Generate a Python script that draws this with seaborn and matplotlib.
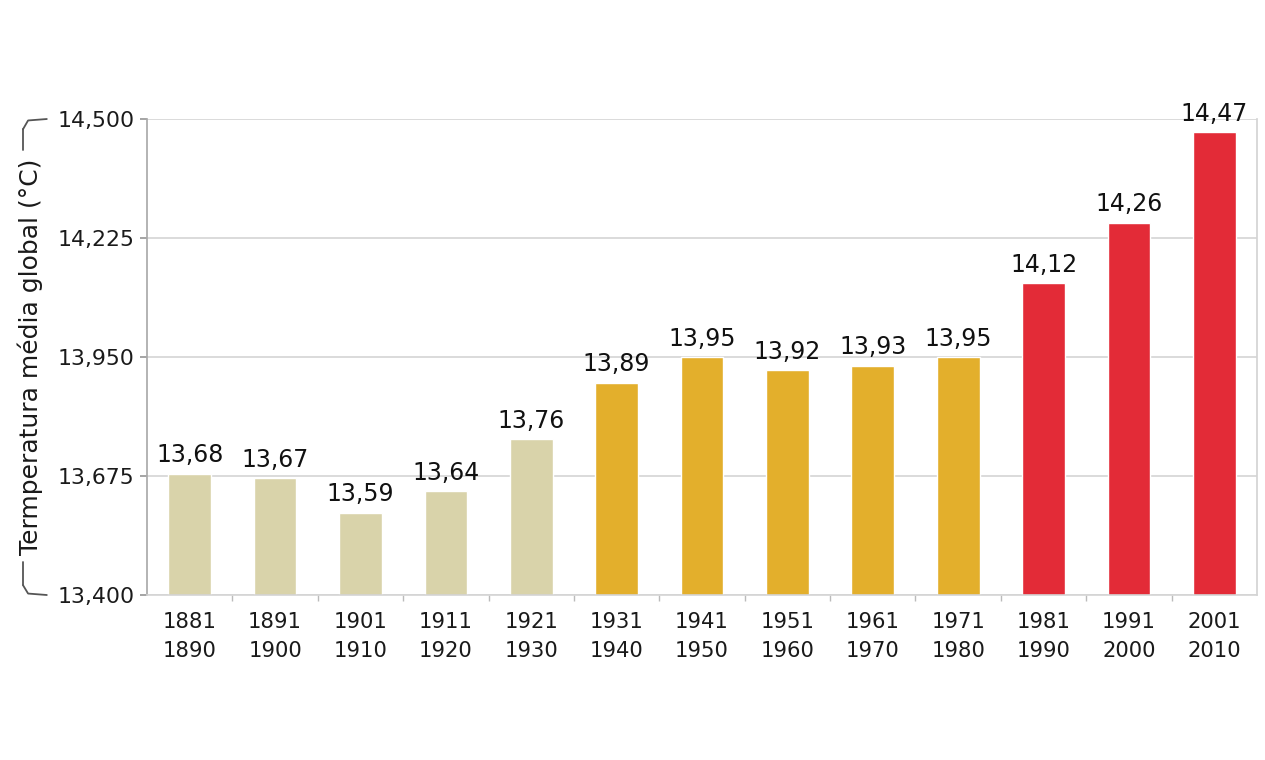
import matplotlib
matplotlib.use("Agg")
import matplotlib.pyplot as plt
import pandas as pd
import seaborn as sns
from matplotlib.lines import Line2D
from matplotlib.ticker import FixedLocator

starts = ["1881", "1891", "1901", "1911", "1921", "1931", "1941", "1951", "1961", "1971", "1981", "1991", "2001"]
ends = ["1890", "1900", "1910", "1920", "1930", "1940", "1950", "1960", "1970", "1980", "1990", "2000", "2010"]
temps = [13.68, 13.67, 13.59, 13.64, 13.76, 13.89, 13.95, 13.92, 13.93, 13.95, 14.12, 14.26, 14.47]
groups = ["early"] * 5 + ["mid"] * 5 + ["late"] * 3
y_ticks = [13.400, 13.675, 13.950, 14.225, 14.500]

palette = {"early": "#D9D3AA", "mid": "#E3AF2C", "late": "#E32B37"}

df = pd.DataFrame({
    "decade": [f"{a}\n{b}" for a, b in zip(starts, ends)],
    "temp": temps,
    "group": groups,
})

sns.set_theme(style="white")
plt.rcParams["font.family"] = ["DejaVu Sans"]

fig = plt.figure(figsize=(12.65, 7.6), dpi=100)
ax = fig.add_axes([0.1162, 0.2171, 0.8775, 0.6263])

sns.barplot(data=df, x="decade", y="temp", hue="group", palette=palette,
            dodge=False, width=0.5, legend=False, ax=ax, saturation=1)

ax.set_ylim(13.4, 14.5)
ax.set_xlim(-0.5, len(starts) - 0.5)
ax.set_yticks(y_ticks)
ax.set_yticklabels([f"{v:.3f}".replace(".", ",") for v in y_ticks], fontsize=15.8, color="#1a1a1a")
ax.tick_params(axis="x", which="major", labelsize=15.2, labelcolor="#1a1a1a", length=0, pad=12)
for lbl in ax.get_xticklabels():
    lbl.set_linespacing(1.6)
ax.xaxis.set_minor_locator(FixedLocator([i + 0.5 for i in range(len(starts) - 1)]))
ax.tick_params(axis="x", which="minor", bottom=True, length=4, color="#bbbbbb", width=1)
ax.tick_params(axis="y", length=5, color="#999999", left=True, pad=4)
ax.yaxis.grid(True, color="#d4d4d4", linewidth=1.2)
ax.set_axisbelow(True)
ax.set_xlabel("")
ax.set_ylabel("")

ax.spines["top"].set_visible(False)
ax.spines["right"].set_color("#d4d4d4")
ax.spines["bottom"].set_color("#d4d4d4")
ax.spines["bottom"].set_linewidth(1.2)
ax.spines["left"].set_color("#aaaaaa")
ax.spines["left"].set_linestyle((0, (1, 1)))

for i, v in enumerate(temps):
    ax.text(i, v + 0.015, f"{v:.2f}".replace(".", ","), ha="center", va="bottom",
            fontsize=17, color="#111111")

# y label with bracket
fig.text(0.024, 0.530, "Termperatura média global (°C)", rotation=90, ha="center", va="center",
         fontsize=18, color="#1a1a1a")
bx, ex = 0.0182, 0.0370
c = "#555555"
fig.add_artist(Line2D([bx, bx], [0.830, 0.8026], color=c, lw=1.3))
fig.add_artist(Line2D([bx, bx + 0.004, ex], [0.830, 0.8415, 0.8434], color=c, lw=1.3))
fig.add_artist(Line2D([bx, bx], [0.2605, 0.230], color=c, lw=1.3))
fig.add_artist(Line2D([bx, bx + 0.004, ex], [0.230, 0.219, 0.2171], color=c, lw=1.3))

fig.savefig("out.png", dpi=100, facecolor="white")
